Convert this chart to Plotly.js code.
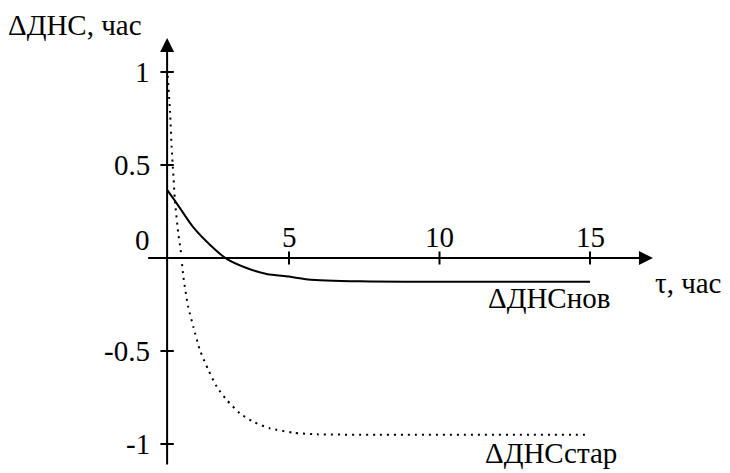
<!DOCTYPE html>
<html><head><meta charset="utf-8">
<script src="https://cdn.plot.ly/plotly-3.0.1.min.js"></script>
<style>html,body{margin:0;padding:0;background:#fff}#chart{width:730px;height:473px}
#chart svg text{font-family:'Times New Roman','Liberation Serif',serif !important;}</style>
</head><body><div id="chart"></div>
<script>
// data
const tauNew = [0.95, 1.27, 1.81, 2.38, 2.93, 3.59, 4.26, 5.0, 5.63, 7.36, 10, 15];
const dnsNew = [0.366, 0.294, 0.167, 0.070, -0.005, -0.054, -0.086, -0.100, -0.115, -0.125, -0.128, -0.128];
const tauOld = [0.97, 1.05, 1.10, 1.16, 1.21, 1.32, 1.40, 1.49, 1.65, 1.82, 2.04, 2.32, 2.60, 2.93, 3.37, 3.81, 4.37, 5.14, 5.92, 8, 15];
const dnsOld = [0.98, 0.78, 0.60, 0.44, 0.31, 0.134, 0.043, -0.10, -0.262, -0.369, -0.495, -0.602, -0.692, -0.763, -0.835, -0.88, -0.916, -0.939, -0.948, -0.95, -0.95];
const xTicks = [5, 10, 15];
const xTickLabels = ['5', '10', '15'];
const yTicks = [1, 0.5, -0.5, -1];
const yTickLabels = ['1', '0.5', '-0.5', '-1'];
const originLabel = '0';
const seriesNames = ['ΔДНСнов', 'ΔДНСстар'];
const yTitle = 'ΔДНС, час';
const xTitle = 'τ, час';

// layout geometry
const yAxisAt = 0.95;          // tau at which the vertical axis stands
const xAxisFrom = 0.27, xAxisTo = 17.09;
const yAxisFrom = -1.118, yAxisTo = 1.183;
function mkFont() { return {family: 'Times New Roman', size: 29, color: '#000'}; }

const traces = [
  {x: tauNew, y: dnsNew, mode: 'lines', line: {color: '#000', width: 2, shape: 'spline', smoothing: 0.8}, hoverinfo: 'skip'},
  {x: tauOld, y: dnsOld, mode: 'lines', line: {color: '#000', width: 2, dash: '2px,5px', shape: 'spline', smoothing: 0.6}, hoverinfo: 'skip'}
];

const shapes = [];
xTicks.forEach(t => shapes.push({type: 'line', xref: 'x', yref: 'y', x0: t, x1: t,
  ysizemode: 'pixel', yanchor: 0, y0: -6.5, y1: 6.5, line: {color: '#000', width: 2}}));
yTicks.forEach(v => shapes.push({type: 'line', xref: 'x', yref: 'y', y0: v, y1: v,
  xsizemode: 'pixel', xanchor: yAxisAt, x0: -6.7, x1: 6.7, line: {color: '#000', width: 2}}));

const ann = [];
// axes with arrows
ann.push({x: xAxisTo, y: 0, ax: xAxisFrom, ay: 0, xref: 'x', yref: 'y', axref: 'x', ayref: 'y',
  text: '', showarrow: true, arrowhead: 2, arrowsize: 1.4, arrowwidth: 2, arrowcolor: '#000'});
ann.push({x: yAxisAt, y: yAxisTo, ax: yAxisAt, ay: yAxisFrom, xref: 'x', yref: 'y', axref: 'x', ayref: 'y',
  text: '', showarrow: true, arrowhead: 2, arrowsize: 1.4, arrowwidth: 2, arrowcolor: '#000'});
xTicks.forEach((t, i) => ann.push({x: t, y: 0, xref: 'x', yref: 'y', text: xTickLabels[i], showarrow: false,
  xanchor: 'center', yanchor: 'bottom', yshift: 3, font: mkFont()}));
yTicks.forEach((v, i) => ann.push({x: yAxisAt, y: v, xref: 'x', yref: 'y', text: yTickLabels[i], showarrow: false,
  xanchor: 'right', yanchor: 'middle', xshift: -15, font: mkFont()}));
ann.push({x: yAxisAt, y: 0, xref: 'x', yref: 'y', text: originLabel, showarrow: false,
  xanchor: 'right', yanchor: 'middle', xshift: -15, yshift: 18, font: mkFont()});
ann.push({x: tauNew[tauNew.length - 1], y: dnsNew[dnsNew.length - 1], xref: 'x', yref: 'y', text: seriesNames[0],
  showarrow: false, xanchor: 'right', yanchor: 'middle', xshift: 22, yshift: -16, font: mkFont()});
ann.push({x: tauOld[tauOld.length - 1], y: dnsOld[dnsOld.length - 1], xref: 'x', yref: 'y', text: seriesNames[1],
  showarrow: false, xanchor: 'right', yanchor: 'middle', xshift: 29, yshift: -18, font: mkFont()});
ann.push({x: 6 / 730, y: 1 - 25 / 473, xref: 'paper', yref: 'paper', text: yTitle, showarrow: false,
  xanchor: 'left', yanchor: 'middle', font: mkFont()});
ann.push({x: 653 / 730, y: 1 - 283 / 473, xref: 'paper', yref: 'paper', text: xTitle, showarrow: false,
  xanchor: 'left', yanchor: 'middle', font: mkFont()});

const layout = {
  width: 730, height: 473,
  margin: {l: 0, r: 0, t: 0, b: 0, pad: 0},
  showlegend: false,
  font: {family: 'Times New Roman', size: 29, color: '#000'},
  xaxis: {range: [-138.5 / 30.1, (730 - 138.5) / 30.1], visible: false, fixedrange: true},
  yaxis: {range: [-(473 - 258) / 186, 258 / 186], visible: false, fixedrange: true},
  shapes: shapes,
  annotations: ann
};
Plotly.newPlot('chart', traces, layout, {displayModeBar: false, staticPlot: true});
</script>
</body></html>
